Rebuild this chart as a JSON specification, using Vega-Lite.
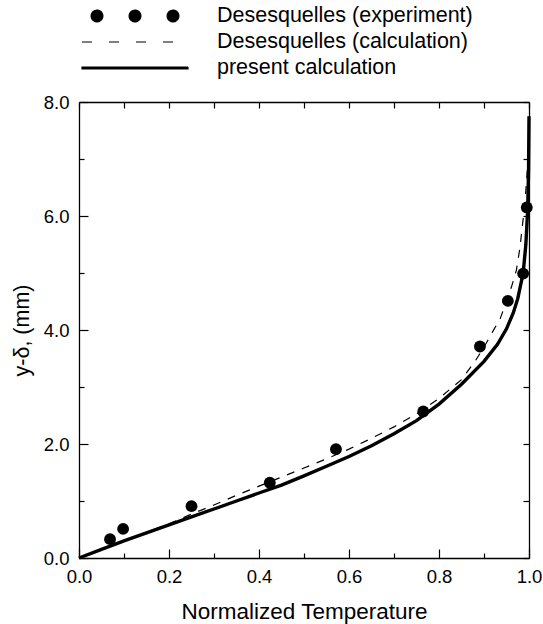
{
  "$schema": "https://vega.github.io/schema/vega-lite/v6.json",
  "autosize": {"type": "none"},
  "padding": {"left": 79, "top": 102, "right": 14, "bottom": 66},
  "width": 450,
  "height": 456,
  "background": "white",
  "config": {
    "font": "Liberation Sans",
    "view": {"stroke": null},
    "axis": {"domainColor": "black", "domainWidth": 1.3, "tickColor": "black", "tickWidth": 1.2, "labelColor": "black", "titleColor": "black", "grid": false, "labelFont": "Liberation Sans", "titleFont": "Liberation Sans", "titleFontWeight": "normal", "labelFlush": false, "labelOverlap": false, "labelBound": false}
  },
  "datasets": {
    "present": [
      {"series": "present calculation", "x": 0, "y": 0},
      {"series": "present calculation", "x": 0.05, "y": 0.15},
      {"series": "present calculation", "x": 0.1, "y": 0.3},
      {"series": "present calculation", "x": 0.15, "y": 0.44},
      {"series": "present calculation", "x": 0.2, "y": 0.58},
      {"series": "present calculation", "x": 0.25, "y": 0.72},
      {"series": "present calculation", "x": 0.3, "y": 0.86},
      {"series": "present calculation", "x": 0.35, "y": 1.0},
      {"series": "present calculation", "x": 0.4, "y": 1.14},
      {"series": "present calculation", "x": 0.45, "y": 1.28},
      {"series": "present calculation", "x": 0.5, "y": 1.44},
      {"series": "present calculation", "x": 0.55, "y": 1.61},
      {"series": "present calculation", "x": 0.6, "y": 1.78},
      {"series": "present calculation", "x": 0.65, "y": 1.97},
      {"series": "present calculation", "x": 0.7, "y": 2.18},
      {"series": "present calculation", "x": 0.75, "y": 2.41},
      {"series": "present calculation", "x": 0.8, "y": 2.7},
      {"series": "present calculation", "x": 0.85, "y": 3.05},
      {"series": "present calculation", "x": 0.9, "y": 3.45},
      {"series": "present calculation", "x": 0.93, "y": 3.75},
      {"series": "present calculation", "x": 0.95, "y": 4.02},
      {"series": "present calculation", "x": 0.965, "y": 4.3},
      {"series": "present calculation", "x": 0.975, "y": 4.55},
      {"series": "present calculation", "x": 0.987, "y": 5.0},
      {"series": "present calculation", "x": 0.993, "y": 5.5},
      {"series": "present calculation", "x": 0.997, "y": 6.1},
      {"series": "present calculation", "x": 0.999, "y": 6.8},
      {"series": "present calculation", "x": 1.0, "y": 7.75}
    ],
    "calc": [
      {"series": "Desesquelles (calculation)", "x": 0, "y": 0},
      {"series": "Desesquelles (calculation)", "x": 0.05, "y": 0.15},
      {"series": "Desesquelles (calculation)", "x": 0.1, "y": 0.3},
      {"series": "Desesquelles (calculation)", "x": 0.15, "y": 0.45},
      {"series": "Desesquelles (calculation)", "x": 0.2, "y": 0.6},
      {"series": "Desesquelles (calculation)", "x": 0.25, "y": 0.77},
      {"series": "Desesquelles (calculation)", "x": 0.3, "y": 0.93},
      {"series": "Desesquelles (calculation)", "x": 0.35, "y": 1.1},
      {"series": "Desesquelles (calculation)", "x": 0.4, "y": 1.26},
      {"series": "Desesquelles (calculation)", "x": 0.45, "y": 1.42},
      {"series": "Desesquelles (calculation)", "x": 0.5, "y": 1.58},
      {"series": "Desesquelles (calculation)", "x": 0.55, "y": 1.74},
      {"series": "Desesquelles (calculation)", "x": 0.6, "y": 1.91},
      {"series": "Desesquelles (calculation)", "x": 0.65, "y": 2.1},
      {"series": "Desesquelles (calculation)", "x": 0.7, "y": 2.3},
      {"series": "Desesquelles (calculation)", "x": 0.75, "y": 2.53},
      {"series": "Desesquelles (calculation)", "x": 0.8, "y": 2.8},
      {"series": "Desesquelles (calculation)", "x": 0.85, "y": 3.13},
      {"series": "Desesquelles (calculation)", "x": 0.88, "y": 3.45},
      {"series": "Desesquelles (calculation)", "x": 0.9, "y": 3.7},
      {"series": "Desesquelles (calculation)", "x": 0.92, "y": 3.98},
      {"series": "Desesquelles (calculation)", "x": 0.936, "y": 4.2},
      {"series": "Desesquelles (calculation)", "x": 0.95, "y": 4.5},
      {"series": "Desesquelles (calculation)", "x": 0.962, "y": 4.78},
      {"series": "Desesquelles (calculation)", "x": 0.972, "y": 5.05},
      {"series": "Desesquelles (calculation)", "x": 0.98, "y": 5.45},
      {"series": "Desesquelles (calculation)", "x": 0.987, "y": 5.95},
      {"series": "Desesquelles (calculation)", "x": 0.993, "y": 6.45},
      {"series": "Desesquelles (calculation)", "x": 0.998, "y": 7.0}
    ],
    "exp": [
      {"series": "Desesquelles (experiment)", "x": 0.069, "y": 0.33},
      {"series": "Desesquelles (experiment)", "x": 0.098, "y": 0.51},
      {"series": "Desesquelles (experiment)", "x": 0.25, "y": 0.91},
      {"series": "Desesquelles (experiment)", "x": 0.424, "y": 1.32},
      {"series": "Desesquelles (experiment)", "x": 0.571, "y": 1.91},
      {"series": "Desesquelles (experiment)", "x": 0.765, "y": 2.57},
      {"series": "Desesquelles (experiment)", "x": 0.891, "y": 3.71},
      {"series": "Desesquelles (experiment)", "x": 0.953, "y": 4.51},
      {"series": "Desesquelles (experiment)", "x": 0.987, "y": 4.99},
      {"series": "Desesquelles (experiment)", "x": 0.995, "y": 6.15}
    ]
  },
  "resolve": {"axis": {"x": "independent", "y": "independent"}},
  "layer": [
    {
      "data": {"name": "present"},
      "mark": {"type": "line", "strokeWidth": 3.4, "clip": false},
      "encoding": {
        "x": {"field": "x", "type": "quantitative", "scale": {"domain": [0, 1], "nice": false, "zero": false},
          "axis": {"orient": "bottom", "values": [0, 0.2, 0.4, 0.6, 0.8, 1.0], "format": ".1f", "tickSize": -9, "labelFontSize": 18.5, "labelPadding": 18, "title": "Normalized Temperature", "titleFontSize": 22.5, "titleBaseline": "alphabetic", "titleY": 60}},
        "y": {"field": "y", "type": "quantitative", "scale": {"domain": [0, 8], "nice": false, "zero": false},
          "axis": {"orient": "left", "values": [0, 2, 4, 6, 8], "format": ".1f", "tickSize": -9, "labelFontSize": 18.5, "labelPadding": 19, "title": "y-δ, (mm)", "titleFontSize": 21.5, "titleX": -57, "titleY": 228, "titleBaseline": "middle", "titleAngle": -90}},
        "color": {"field": "series", "type": "nominal",
          "scale": {"domain": ["Desesquelles (experiment)", "Desesquelles (calculation)", "present calculation"], "range": ["black", "black", "black"]},
          "legend": {
            "orient": "none", "legendX": 2, "legendY": -97, "title": null,
            "symbolSize": 11236, "symbolType": "stroke", "symbolStrokeWidth": 1.2, "labelFontSize": 21.5, "labelFont": "Liberation Sans", "labelColor": "black",
            "labelLimit": 500, "labelOffset": 28, "rowPadding": 4, "padding": 0, "symbolOffset": 0,
            "encode": {
              "symbols": {"update": {
                "shape": {"signal": "datum.value === 'Desesquelles (experiment)' ? 'M-0.828,0C-0.828,-0.061,-0.778,-0.111,-0.717,-0.111C-0.656,-0.111,-0.606,-0.061,-0.606,0C-0.606,0.061,-0.656,0.111,-0.717,0.111C-0.778,0.111,-0.828,0.061,-0.828,0Z M-0.111,0C-0.111,-0.061,-0.061,-0.111,0,-0.111C0.061,-0.111,0.111,-0.061,0.111,0C0.111,0.061,0.061,0.111,0,0.111C-0.061,0.111,-0.111,0.061,-0.111,0Z M0.606,0C0.606,-0.061,0.656,-0.111,0.717,-0.111C0.778,-0.111,0.828,-0.061,0.828,0C0.828,0.061,0.778,0.111,0.717,0.111C0.656,0.111,0.606,0.061,0.606,0Z' : (datum.value === 'present calculation' ? 'M-1,-0.017H1V0.017H-1Z' : 'stroke')"},
                "fill": {"signal": "datum.value === 'Desesquelles (calculation)' ? 'transparent' : 'black'"},
                "stroke": {"value": "black"},
                "strokeWidth": {"value": 1.2},
                "strokeDash": {"signal": "datum.value === 'Desesquelles (calculation)' ? [10, 17] : [1, 0]"},
                "opacity": {"value": 1},
                "size": {"value": 11236},
                "y": {"value": 11}
              }},
              "labels": {"update": {"y": {"value": 11}}}
            }
          }}
      }
    },
    {
      "data": {"name": "calc"},
      "mark": {"type": "line", "strokeWidth": 1.2, "strokeDash": [8, 8], "clip": false},
      "encoding": {
        "x": {"field": "x", "type": "quantitative", "scale": {"domain": [0, 1], "nice": false, "zero": false},
          "axis": {"orient": "bottom", "values": [0.1, 0.3, 0.5, 0.7, 0.9], "tickSize": -5, "labels": false, "domain": false, "title": null}},
        "y": {"field": "y", "type": "quantitative", "scale": {"domain": [0, 8], "nice": false, "zero": false},
          "axis": {"orient": "left", "values": [1, 3, 5, 7], "tickSize": -5, "labels": false, "domain": false, "title": null}},
        "color": {"field": "series", "type": "nominal"}
      }
    },
    {
      "data": {"name": "exp"},
      "mark": {"type": "circle", "size": 140, "opacity": 1},
      "encoding": {
        "x": {"field": "x", "type": "quantitative", "scale": {"domain": [0, 1], "nice": false, "zero": false},
          "axis": {"orient": "top", "values": [0, 0.1, 0.2, 0.3, 0.4, 0.5, 0.6, 0.7, 0.8, 0.9, 1.0], "tickSize": -6, "labels": false, "title": null}},
        "y": {"field": "y", "type": "quantitative", "scale": {"domain": [0, 8], "nice": false, "zero": false},
          "axis": {"orient": "right", "values": [0, 1, 2, 3, 4, 5, 6, 7, 8], "tickSize": -6, "labels": false, "title": null}},
        "color": {"field": "series", "type": "nominal"}
      }
    }
  ]
}
